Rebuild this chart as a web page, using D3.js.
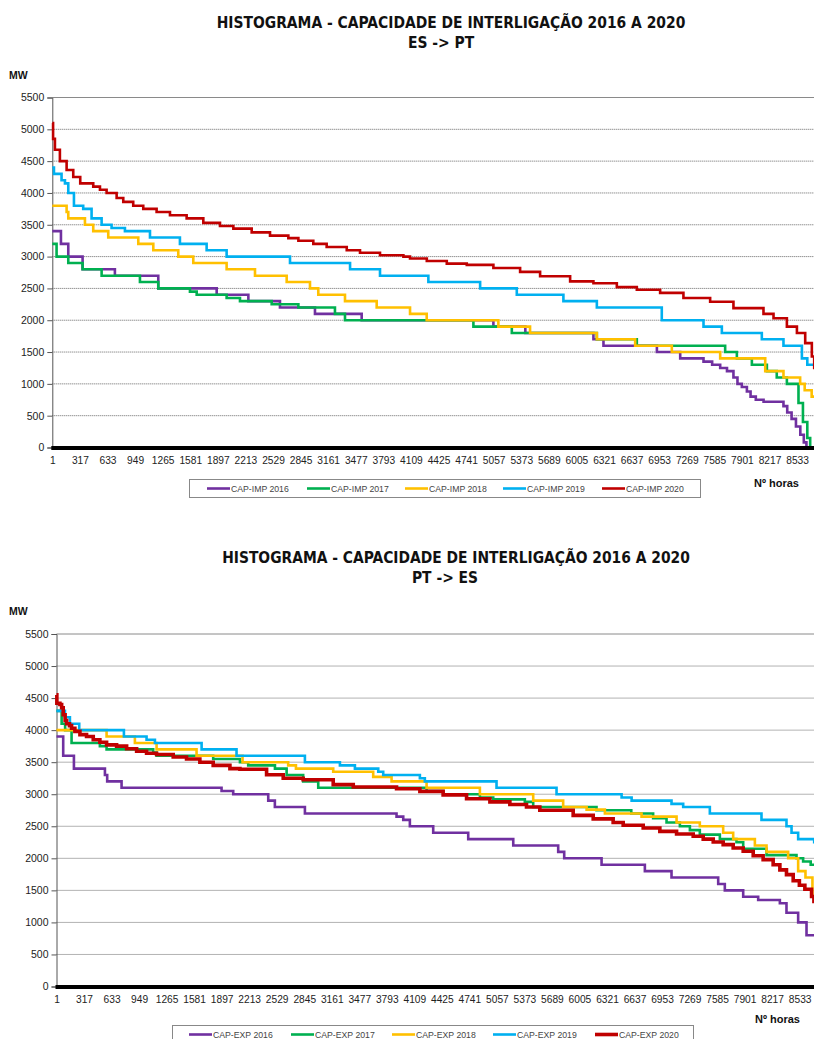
<!DOCTYPE html>
<html><head><meta charset="utf-8">
<script src="https://cdn.jsdelivr.net/npm/d3@7"></script>
<style>
html,body{margin:0;padding:0;background:#fff;}
svg{display:block;}
</style></head><body>
<svg id="c" width="814" height="1039"></svg>
<script>
// ---------- tick labels ----------
const hourTicks = [1,317,633,949,1265,1581,1897,2213,2529,2845,3161,3477,3793,4109,4425,4741,5057,5373,5689,6005,6321,6637,6953,7269,7585,7901,8217,8533];
const mwTicks = [0,500,1000,1500,2000,2500,3000,3500,4000,4500,5000,5500];
const years = ["2016","2017","2018","2019","2020"];
const seriesColors = ["#7030A0","#00B050","#FFC000","#00B0F0","#C00000"];
const totalHours = 8784;

// ---------- ES -> PT (CAP-IMP) : step breakpoints (hour) and MW values ----------
const impHours2016 = [1,100,184,348,718,1215,1884,2247,2609,3010,3545,5054,5420,6200,6315,6927,7194,7461,7560,7652,7730,7804,7850,7900,7958,8000,8060,8149,8377,8420,8470,8520,8570,8610,8640];
const impMW2016    = [3400,3200,3000,2800,2700,2500,2400,2300,2200,2100,2000,1900,1800,1700,1600,1500,1400,1350,1300,1250,1200,1100,1000,950,880,800,750,720,650,550,450,330,200,80,0];
const impHours2017 = [1,50,184,348,566,1005,1215,1578,1655,1998,2151,2514,2820,3239,3354,4825,5265,6239,6697,7709,7843,8015,8187,8300,8416,8549,8600,8650,8683];
const impMW2017    = [3200,3000,2900,2800,2700,2600,2500,2450,2400,2350,2300,2250,2200,2100,2000,1900,1800,1700,1600,1500,1400,1300,1200,1100,1000,700,400,150,0];
const impHours2018 = [1,165,184,375,470,642,986,1158,1444,1616,1998,2323,2686,2953,3048,3354,3717,4099,4290,5111,5474,6239,6678,7098,7652,8168,8377,8568,8620,8700];
const impMW2018    = [3800,3700,3600,3500,3400,3300,3200,3100,3000,2900,2800,2700,2600,2500,2400,2300,2200,2100,2000,1900,1800,1700,1600,1500,1400,1200,1100,1000,900,800];
const impHours2019 = [1,20,107,146,184,249,355,451,566,680,833,1120,1463,1769,1998,2724,3412,3755,4309,4902,5322,5856,6239,6983,7461,7671,8129,8377,8588,8650];
const impMW2019    = [4400,4300,4200,4150,4000,3800,3750,3600,3500,3450,3400,3300,3200,3100,3000,2900,2800,2700,2600,2500,2400,2300,2200,2000,1900,1800,1700,1600,1400,1300];
const impHours2020 = [1,10,31,88,165,241,321,470,547,623,738,814,928,1043,1196,1349,1540,1731,1922,2075,2285,2495,2705,2820,2991,3144,3374,3526,3755,4023,4099,4291,4520,4749,5054,5360,5589,5933,6200,6468,6697,6964,7231,7537,7804,8148,8263,8416,8531,8626,8702,8729];
const impMW2020    = [5100,4850,4680,4500,4360,4250,4150,4100,4050,4000,3920,3860,3800,3750,3700,3650,3600,3530,3480,3440,3380,3330,3290,3250,3200,3150,3100,3060,3020,3000,2970,2930,2890,2870,2820,2760,2690,2610,2580,2520,2480,2430,2350,2290,2190,2100,2030,1900,1800,1640,1430,1250];

// ---------- PT -> ES (CAP-EXP) ----------
const expHours2016 = [1,78,201,557,583,748,1896,2030,2432,2508,2853,3905,3982,4058,4326,4728,5245,5761,5830,6259,6756,7062,7598,7674,7885,8057,8306,8382,8516,8612];
const expMW2016    = [3900,3600,3400,3300,3200,3100,3050,3000,2900,2800,2700,2650,2600,2500,2400,2300,2200,2100,2000,1900,1800,1700,1600,1500,1400,1350,1300,1150,1000,800];
const expHours2017 = [1,60,100,174,499,576,1111,1150,1800,2107,2202,2509,2643,2833,3006,4250,4441,4862,5015,5378,5474,6201,6600,6851,7005,7158,7273,7387,7617,7808,7885,8153,8497,8573,8660];
const expMW2017    = [4300,4100,4000,3800,3750,3700,3650,3600,3550,3500,3450,3400,3300,3200,3100,3050,3000,2950,2920,2880,2800,2750,2700,2625,2560,2500,2440,2370,2300,2250,2150,2050,2000,1950,1900];
const expHours2018 = [1,576,901,1150,1609,2137,2661,2750,3178,3637,3848,4250,4862,5474,5818,6087,6297,6718,7120,7387,7655,7770,8019,8153,8401,8516,8600,8680];
const expMW2018    = [4000,3900,3800,3700,3600,3500,3450,3400,3350,3270,3200,3100,3000,2900,2800,2760,2700,2650,2560,2500,2400,2300,2200,2100,2000,1800,1700,1400];
const expHours2019 = [1,98,155,262,775,1035,1131,1667,2068,2853,3255,3427,3695,3752,4173,4230,5053,5742,6489,6604,7062,7196,7502,8095,8382,8440,8516,8700];
const expMW2019    = [4300,4200,4100,4000,3900,3850,3800,3700,3600,3500,3450,3400,3350,3300,3250,3200,3100,3000,2950,2900,2850,2800,2700,2600,2500,2400,2300,2250];
const expHours2020 = [1,5,40,60,78,100,117,150,174,212,270,346,423,499,576,691,806,921,1035,1150,1341,1494,1647,1800,1992,2107,2413,2604,2833,3178,3408,3905,4173,4440,4709,4977,5206,5397,5550,5933,6163,6392,6507,6737,6928,7120,7311,7426,7541,7655,7770,7885,8000,8114,8229,8306,8382,8459,8530,8593,8670,8697];
const expMW2020    = [4550,4420,4400,4350,4240,4150,4100,4070,4030,3980,3930,3900,3850,3810,3770,3750,3710,3670,3640,3620,3580,3550,3500,3450,3400,3390,3305,3250,3226,3150,3112,3086,3044,2990,2930,2880,2840,2800,2750,2670,2615,2560,2516,2474,2420,2380,2344,2300,2255,2214,2160,2110,2040,1980,1900,1820,1745,1650,1580,1518,1404,1326];

const impSeries = [[impHours2016,impMW2016],[impHours2017,impMW2017],[impHours2018,impMW2018],[impHours2019,impMW2019],[impHours2020,impMW2020]];
const expSeries = [[expHours2016,expMW2016],[expHours2017,expMW2017],[expHours2018,expMW2018],[expHours2019,expMW2019],[expHours2020,expMW2020]];

const svg = d3.select("#c");

function drawChart(cfg){
  const g = svg.append("g");
  const x = d3.scaleLinear().domain([1,totalHours]).range([cfg.left, cfg.right]);
  const y = d3.scaleLinear().domain([0,5500]).range([cfg.bottom, cfg.top]);

  // title
  const t1 = g.append("text").attr("x",cfg.titleX).attr("y",cfg.titleY)
    .attr("text-anchor","middle").attr("font-family","'DejaVu Sans Condensed','DejaVu Sans',sans-serif")
    .attr("font-weight","bold").attr("font-size",15).attr("fill","#111")
    .text("HISTOGRAMA - CAPACIDADE DE INTERLIGAÇÃO 2016 A 2020");
  const w = t1.node().getComputedTextLength();
  const fs = 15*cfg.titleW/w;
  t1.attr("font-size",fs);
  g.append("text").attr("x",cfg.subX).attr("y",cfg.titleY+20)
    .attr("text-anchor","middle").attr("font-family","'DejaVu Sans Condensed','DejaVu Sans',sans-serif")
    .attr("font-weight","bold").attr("font-size",fs).attr("fill","#111").text(cfg.sub);

  // MW label
  g.append("text").attr("x",9).attr("y",cfg.top-19).attr("font-family","'Liberation Sans',Arial,sans-serif")
    .attr("font-weight","bold").attr("font-size",10.5).attr("fill","#111").text("MW");

  // gridlines
  g.append("g").selectAll("line").data(mwTicks.filter(v=>v>0 && v<5500)).join("line")
    .attr("x1",cfg.left).attr("x2",814).attr("y1",d=>y(d)).attr("y2",d=>y(d))
    .attr("stroke","#666").attr("stroke-width",1).attr("stroke-dasharray","1,1");
  g.append("line").attr("x1",cfg.left).attr("x2",814).attr("y1",y(5500)).attr("y2",y(5500))
    .attr("stroke","#8a8a8a").attr("stroke-width",1);

  // y axis
  const yAxis = d3.axisLeft(y).tickValues(mwTicks).tickSize(5).tickPadding(3).tickFormat(d3.format("d"));
  const ya = g.append("g").attr("transform",`translate(${cfg.left},0)`).call(yAxis);
  ya.select(".domain").attr("stroke","#555");
  ya.selectAll(".tick line").attr("stroke","#555");
  ya.selectAll("text").attr("font-family","'Liberation Sans',Arial,sans-serif").attr("font-size",10.5).attr("fill","#222");

  // lines
  const line = d3.line().x(d=>x(d[0])).y(d=>y(d[1])).curve(d3.curveStepAfter);
  cfg.series.forEach((s,i)=>{
    const pts = s[0].map((h,k)=>[h,s[1][k]]);
    pts.push([totalHours, s[1][s[1].length-1]]);
    g.append("path").datum(pts).attr("d",line).attr("fill","none")
      .attr("stroke",seriesColors[i]).attr("stroke-width", (cfg.thickRed && i===4)?3.6:2.6)
      .attr("stroke-linejoin","miter");
  });

  // x axis
  const xAxis = d3.axisBottom(x).tickValues(hourTicks).tickSize(0).tickPadding(9).tickFormat(d3.format("d"));
  const xa = g.append("g").attr("transform",`translate(0,${cfg.bottom})`).call(xAxis);
  xa.select(".domain").remove();
  xa.selectAll("text").attr("font-family","'Liberation Sans',Arial,sans-serif").attr("font-size",10.2).attr("fill","#222");
  g.append("line").attr("x1",cfg.left-1).attr("x2",814).attr("y1",cfg.bottom+0.5).attr("y2",cfg.bottom+0.5)
    .attr("stroke","#000").attr("stroke-width",4);

  // Nº horas
  g.append("text").attr("x",cfg.horasX).attr("y",cfg.horasY).attr("font-family","'Liberation Sans',Arial,sans-serif")
    .attr("font-weight","bold").attr("font-size",11).attr("fill","#111").text("Nº horas");

  // legend
  const lg = g.append("g");
  lg.append("rect").attr("x",cfg.legX).attr("y",cfg.legY).attr("width",cfg.legW).attr("height",18)
    .attr("fill","#fff").attr("stroke","#888").attr("stroke-width",1);
  years.forEach((yr,i)=>{
    const lx = cfg.legItems[i];
    lg.append("line").attr("x1",lx).attr("x2",lx+23).attr("y1",cfg.legY+9).attr("y2",cfg.legY+9)
      .attr("stroke",seriesColors[i]).attr("stroke-width",(cfg.thickRed && i===4)?3.6:2.6);
    lg.append("text").attr("x",lx+24).attr("y",cfg.legY+12.3).attr("font-family","'Liberation Sans',Arial,sans-serif")
      .attr("font-size",8.7).attr("fill","#444").text(cfg.prefix+" "+yr);
  });
}

drawChart({top:97.5,bottom:447.5,left:52.3,right:819,titleX:451,titleY:28,titleW:469,subX:441,sub:"ES -> PT",
  series:impSeries,thickRed:false,horasX:754,horasY:487,legX:189.5,legY:479.5,legW:511,
  legItems:[207,307,405,503,602],prefix:"CAP-IMP"});
drawChart({top:634,bottom:986.5,left:56.5,right:821.5,titleX:456,titleY:563,titleW:468,subX:445,sub:"PT -> ES",
  series:expSeries,thickRed:true,horasX:755,horasY:1023,legX:172.5,legY:1025.5,legW:521,
  legItems:[189,291,392,493,595],prefix:"CAP-EXP"});
</script>
</body></html>
